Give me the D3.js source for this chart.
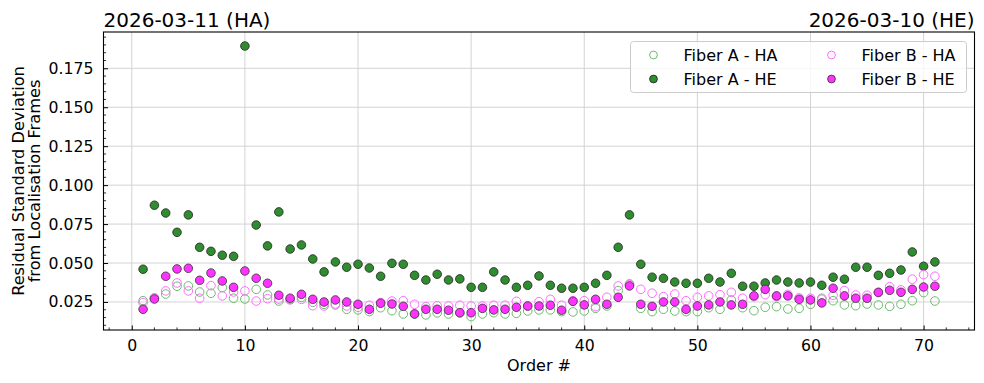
<!DOCTYPE html>
<html><head><meta charset="utf-8">
<script src="https://cdn.jsdelivr.net/npm/d3@7"></script>
<style>body{margin:0;background:#fff;} svg text{font-family:"DejaVu Sans",sans-serif;fill:#000;}</style>
</head><body><svg id="c" width="984" height="383"></svg>
<script>
const orders = [1,2,3,4,5,6,7,8,9,10,11,12,13,14,15,16,17,18,19,20,21,22,23,24,25,26,27,28,29,30,31,32,33,34,35,36,37,38,39,40,41,42,43,44,45,46,47,48,49,50,51,52,53,54,55,56,57,58,59,60,61,62,63,64,65,66,67,68,69,70,71];
const fiberA_HA = [0.0258,0.0276,0.0301,0.0351,0.0353,0.0314,0.0306,0.0342,0.0274,0.0269,
 0.0331,0.0295,0.0256,0.0267,0.0280,0.0248,0.0235,0.0231,0.0203,0.0199,
 0.0188,0.0213,0.0194,0.0173,0.0173,0.0167,0.0180,0.0173,0.0180,0.0156,
 0.0173,0.0181,0.0173,0.0177,0.0192,0.0199,0.0199,0.0188,0.0186,0.0192,
 0.0209,0.0224,0.0323,0.0366,0.0209,0.0188,0.0203,0.0192,0.0188,0.0188,
 0.0213,0.0203,0.0263,0.0213,0.0194,0.0216,0.0220,0.0205,0.0209,0.0235,
 0.0274,0.0258,0.0231,0.0226,0.0237,0.0231,0.0222,0.0235,0.0258,0.0310,0.0256];
const fiberA_HE = [0.0460,0.0871,0.0821,0.0697,0.0809,0.0601,0.0575,0.0550,0.0543,0.1893,
 0.0744,0.0610,0.0828,0.0590,0.0616,0.0526,0.0443,0.0507,0.0473,0.0492,
 0.0468,0.0415,0.0498,0.0492,0.0421,0.0391,0.0428,0.0391,0.0398,0.0344,
 0.0344,0.0443,0.0391,0.0344,0.0357,0.0417,0.0357,0.0338,0.0338,0.0344,
 0.0370,0.0421,0.0601,0.0809,0.0492,0.0409,0.0402,0.0378,0.0370,0.0370,
 0.0402,0.0378,0.0434,0.0351,0.0351,0.0372,0.0391,0.0378,0.0372,0.0378,
 0.0357,0.0409,0.0396,0.0473,0.0473,0.0421,0.0434,0.0455,0.0571,0.0479,0.0507];
const fiberB_HA = [0.0246,0.0274,0.0321,0.0372,0.0321,0.0274,0.0355,0.0289,0.0314,0.0321,
 0.0256,0.0271,0.0269,0.0263,0.0267,0.0226,0.0224,0.0237,0.0224,0.0216,
 0.0229,0.0246,0.0256,0.0258,0.0235,0.0220,0.0226,0.0224,0.0229,0.0224,
 0.0224,0.0229,0.0229,0.0254,0.0224,0.0252,0.0267,0.0229,0.0258,0.0258,
 0.0220,0.0280,0.0353,0.0361,0.0331,0.0306,0.0284,0.0301,0.0258,0.0280,
 0.0289,0.0297,0.0312,0.0274,0.0284,0.0297,0.0284,0.0299,0.0276,0.0274,
 0.0267,0.0293,0.0323,0.0295,0.0293,0.0310,0.0348,0.0327,0.0396,0.0425,0.0415];
const fiberB_HE = [0.0203,0.0269,0.0415,0.0462,0.0466,0.0389,0.0436,0.0385,0.0344,0.0449,
 0.0402,0.0370,0.0293,0.0274,0.0299,0.0267,0.0250,0.0263,0.0250,0.0235,
 0.0203,0.0242,0.0237,0.0222,0.0173,0.0203,0.0203,0.0197,0.0181,0.0181,
 0.0209,0.0199,0.0203,0.0216,0.0224,0.0224,0.0229,0.0197,0.0254,0.0231,
 0.0267,0.0235,0.0280,0.0353,0.0235,0.0222,0.0250,0.0250,0.0203,0.0224,
 0.0231,0.0250,0.0231,0.0235,0.0289,0.0331,0.0289,0.0289,0.0267,0.0263,
 0.0244,0.0338,0.0289,0.0274,0.0274,0.0312,0.0325,0.0312,0.0331,0.0346,0.0351];
const xTicks = [0,10,20,30,40,50,60,70];
const yTicks = [0.025,0.050,0.075,0.100,0.125,0.150,0.175];
const seriesNames = ["Fiber A - HA","Fiber A - HE","Fiber B - HA","Fiber B - HE"];
const titleLeft = "2026-03-11 (HA)", titleRight = "2026-03-10 (HE)";

const L=103.5, R=974.5, T=32, B=330;
const svg = d3.select("#c");
const x = d3.scaleLinear().domain([-2.5,74.5]).range([L,R]);
const y = d3.scaleLinear().domain([0.0070,0.1983]).range([B,T]);

const styles = [
  {fill:"none", stroke:"#6cbb6c", sw:1},
  {fill:"#2f8d2f", stroke:"#222", sw:0.8},
  {fill:"none", stroke:"#ff6cff", sw:1},
  {fill:"#ff33ff", stroke:"#333", sw:0.8}
];
const data = [fiberA_HA, fiberA_HE, fiberB_HA, fiberB_HE];

// grid
const g = svg.append("g");
g.selectAll("line.gx").data(xTicks).join("line")
  .attr("x1",d=>x(d)).attr("x2",d=>x(d)).attr("y1",T).attr("y2",B)
  .attr("stroke","#d3d3d3").attr("stroke-width",1);
g.selectAll("line.gy").data(yTicks).join("line")
  .attr("y1",d=>y(d)).attr("y2",d=>y(d)).attr("x1",L).attr("x2",R)
  .attr("stroke","#d3d3d3").attr("stroke-width",1);

// series
data.forEach((arr,i)=>{
  const s = styles[i];
  svg.append("g").selectAll("circle").data(arr).join("circle")
    .attr("cx",(d,j)=>x(orders[j])).attr("cy",d=>y(d)).attr("r",4.3)
    .attr("fill",s.fill).attr("stroke",s.stroke).attr("stroke-width",s.sw);
});

// axes
const xMinor = d3.range(-2,75,2).filter(v=>v%10!==0);
const yMinor = d3.range(10,200,5).map(v=>v/1000).filter(v=>Math.round(v*1000)%25!==0);
const ax = svg.append("g").attr("transform",`translate(0,${B})`)
  .call(d3.axisBottom(x).tickValues(xTicks).tickSize(-4.5).tickPadding(9.5).tickFormat(d3.format("d")));
ax.select(".domain").remove();
ax.selectAll("text").attr("font-size","15.7px").attr("font-family","DejaVu Sans");
ax.selectAll("line").attr("stroke","#000").attr("stroke-width",1);
svg.append("g").selectAll("line").data(xMinor).join("line")
  .attr("x1",d=>x(d)).attr("x2",d=>x(d)).attr("y1",B).attr("y2",B-2.6).attr("stroke","#000").attr("stroke-width",0.8);

const ay = svg.append("g").attr("transform",`translate(${L},0)`)
  .call(d3.axisLeft(y).tickValues(yTicks).tickSize(-4.5).tickPadding(10).tickFormat(d3.format(".3f")));
ay.select(".domain").remove();
ay.selectAll("text").attr("font-size","15.7px").attr("font-family","DejaVu Sans");
ay.selectAll("line").attr("stroke","#000").attr("stroke-width",1);
svg.append("g").selectAll("line").data(yMinor).join("line")
  .attr("y1",d=>y(d)).attr("y2",d=>y(d)).attr("x1",L).attr("x2",L+2.6).attr("stroke","#000").attr("stroke-width",0.8);

svg.append("rect").attr("x",L).attr("y",T).attr("width",R-L).attr("height",B-T)
  .attr("fill","none").attr("stroke","#000").attr("stroke-width",1.1);

// labels
svg.append("text").attr("x",(L+R)/2).attr("y",371).attr("text-anchor","middle").attr("font-size","16px").text("Order #");
const yl = svg.append("text").attr("transform",`translate(0,${(T+B)/2}) rotate(-90)`).attr("text-anchor","middle").attr("font-size","16.2px");
yl.append("tspan").attr("x",0).attr("y",23.5).text("Residual Standard Deviation");
yl.append("tspan").attr("x",0).attr("y",40).text("from Localisation Frames");
svg.append("text").attr("x",L).attr("y",26.5).attr("font-size","20px").text(titleLeft);
svg.append("text").attr("x",R).attr("y",26.5).attr("text-anchor","end").attr("font-size","20px").text(titleRight);

// legend
const lg = svg.append("g");
lg.append("rect").attr("x",630.5).attr("y",41.5).attr("width",336).attr("height",51).attr("rx",3)
  .attr("fill","#fff").attr("fill-opacity",0.8).attr("stroke","#cccccc").attr("stroke-width",1);
const pos = [[653.5,55],[653.5,79],[831.5,55],[831.5,79]];
seriesNames.forEach((n,i)=>{
  const s = styles[i];
  lg.append("circle").attr("cx",pos[i][0]).attr("cy",pos[i][1]).attr("r",3.9)
    .attr("fill",s.fill).attr("stroke",s.stroke).attr("stroke-width",s.sw);
  lg.append("text").attr("x",pos[i][0]+30).attr("y",pos[i][1]+5.8).attr("font-size","16px").text(n);
});
</script></body></html>
